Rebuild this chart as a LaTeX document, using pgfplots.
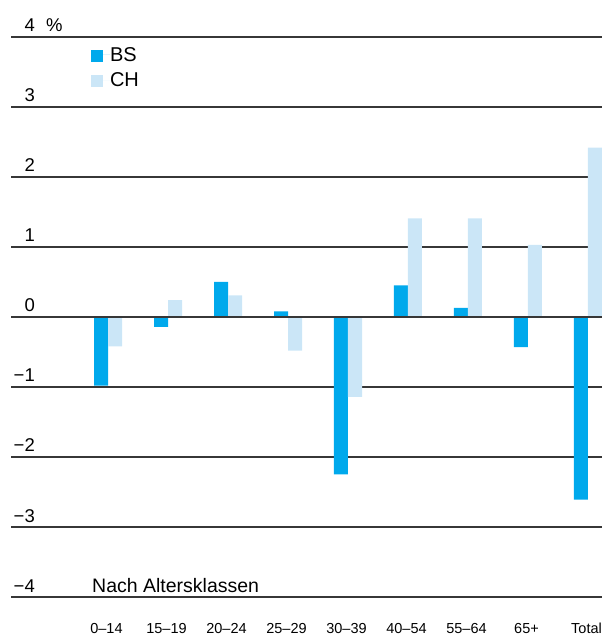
\documentclass[border=0pt]{standalone}
\usepackage{fontspec}
\setmainfont{Liberation Sans}
\usepackage{pgfplots}
\pgfplotsset{compat=1.18}

\definecolor{bs}{RGB}{0,169,236}
\definecolor{ch}{RGB}{203,230,247}
\definecolor{gridc}{RGB}{55,55,55}

\begin{document}
\begin{tikzpicture}
\begin{axis}[
    scale only axis,
    width=591pt, height=560pt,
    xmin=-1.6167, xmax=8.2333,
    ymin=-4, ymax=4,
    clip=false,
    axis line style={draw=none},
    major tick length=0pt,
    ytick={-4,...,4},
    yticklabels={−4,−3,−2,−1,0,1,2,3,4},
    ymajorgrids,
    major grid style={gridc, line width=1.2pt},
    yticklabel style={anchor=base east, inner sep=0pt, xshift=24pt, yshift=5pt,
        font=\fontsize{18.5}{20}\selectfont},
    xtick={0,...,8},
    xticklabels={0–14,15–19,20–24,25–29,30–39,40–54,55–64,65+,Total},
    xticklabel style={anchor=base, inner sep=0pt, yshift=-36pt, xshift=-1.5pt,
        font=\fontsize{14.5}{16}\selectfont},
    legend cell align=left,
    legend image code/.code={
        \fill[#1] (0pt,-7pt) rectangle (12pt,5pt);
        \path (0pt,0pt) -- (19pt,0pt);},
    legend style={draw=none, fill=none, inner sep=0pt, outer sep=0pt,
        at={(axis description cs:0.1354,0.982)}, anchor=north west,
        row sep=10pt, font=\fontsize{20}{22}\selectfont,
        nodes={inner sep=0pt}},
]

\addplot[ybar, bar width=14pt, bar shift=-7pt, fill=bs, draw=none]
    coordinates {(0,-0.98)(1,-0.14)(2,0.50)(3,0.08)(4,-2.25)(5,0.45)(6,0.13)(7,-0.43)(8,-2.61)};
\addlegendentry{BS}

\addplot[ybar, bar width=14pt, bar shift=7pt, fill=ch, draw=none]
    coordinates {(0,-0.42)(1,0.24)(2,0.31)(3,-0.48)(4,-1.14)(5,1.41)(6,1.41)(7,1.03)(8,2.42)};
\addlegendentry{CH}

% zero line sits on top of the bars
\draw[gridc, line width=1.2pt] (axis cs:-1.6167,0) -- (axis cs:8.2333,0);

\node[anchor=base west, inner sep=0pt, xshift=35pt, yshift=5pt,
    font=\fontsize{18.5}{20}\selectfont] at (rel axis cs:0,1) {\%};
\node[anchor=base west, inner sep=0pt, xshift=81pt, yshift=5pt,
    font=\fontsize{19.5}{22}\selectfont] at (rel axis cs:0,0) {Nach Altersklassen};
\end{axis}
\pgfresetboundingbox
\path[use as bounding box] (-11pt,-38pt) rectangle (591pt,597pt);
\end{tikzpicture}
\end{document}
